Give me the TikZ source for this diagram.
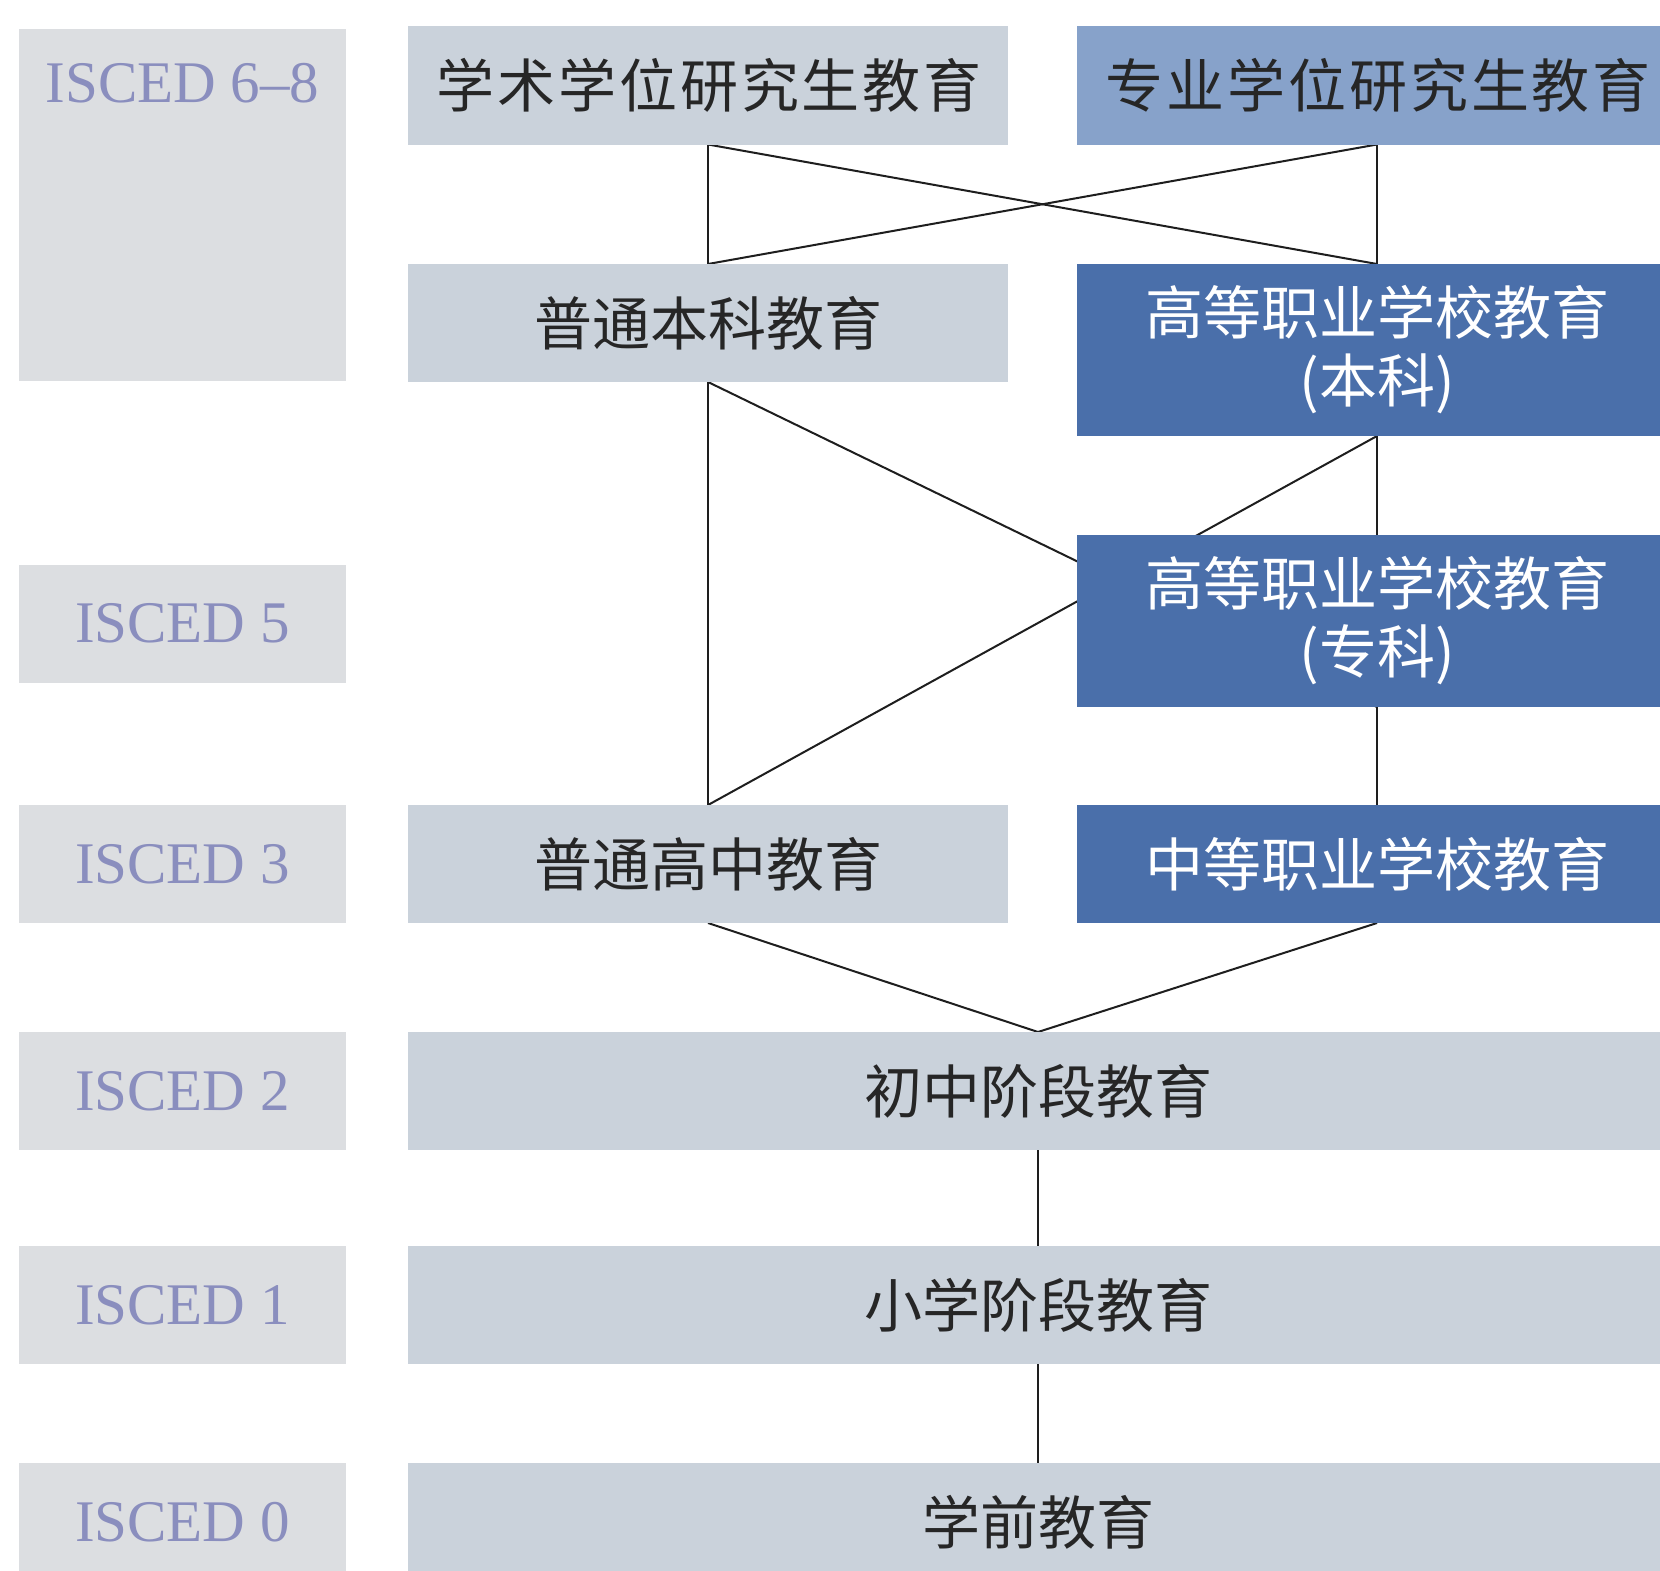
\documentclass[tikz,border=0pt]{standalone}
\usepackage{fontspec}
\setmainfont{Liberation Serif}
\newfontfamily\cjk{Noto Sans CJK SC}
\newfontfamily\cjkwide{Noto Sans CJK SC}[LetterSpace=5]
\definecolor{isgray}{HTML}{DCDEE1}
\definecolor{istext}{HTML}{8A8EBE}
\definecolor{lightbox}{HTML}{CAD2DB}
\definecolor{midblue}{HTML}{87A2CA}
\definecolor{darkblue}{HTML}{4A6FAA}
\definecolor{cjktext}{HTML}{262626}
\definecolor{linecol}{HTML}{1E1E1E}
\pgfdeclarelayer{back}
\pgfdeclarelayer{bg}
\pgfsetlayers{back,bg,main}
\tikzset{
  box/.style={rectangle, inner sep=0pt, outer sep=0pt, draw=none, align=center,
              minimum height=118pt},
  isbox/.style={box, fill=isgray, minimum width=327pt},
  istxt/.style={inner sep=0pt, text=istext, font=\fontsize{59}{62}\selectfont},
  lbox/.style={box, fill=lightbox, minimum width=600pt, text=cjktext,
               font=\cjk\fontsize{58}{68}\selectfont},
  lwbox/.style={lbox, font=\cjkwide\fontsize{58}{68}\selectfont},
  mbox/.style={box, fill=midblue, minimum width=600pt, text=cjktext,
               font=\cjkwide\fontsize{58}{68}\selectfont},
  dbox/.style={box, fill=darkblue, minimum width=600pt, text=white,
               font=\cjk\fontsize{58}{68}\selectfont},
  widebox/.style={lbox, minimum width=1260pt},
  conn/.style={draw=linecol, line width=2pt}
}
\begin{document}
\begin{tikzpicture}[x=1pt,y=-1pt]
\begin{pgfonlayer}{back}
\fill[white] (0,0) rectangle (1660,1571);
\end{pgfonlayer}
\useasboundingbox (0,0) rectangle (1660,1571);

% ISCED level column
\node[isbox, minimum height=352pt] (isc68) at (182.5,205) {};
\node[istxt] (isc68t) at (182.5,83) {ISCED 6\textendash 8};
\node[isbox] (isc5) at (182.5,623.5) {};
\node[istxt] (isc5t) at (isc5.center) {ISCED 5};
\node[isbox] (isc3) at (182.5,864) {};
\node[istxt] (isc3t) at (isc3.center) {ISCED 3};
\node[isbox] (isc2) at (182.5,1091) {};
\node[istxt] (isc2t) at (isc2.center) {ISCED 2};
\node[isbox] (isc1) at (182.5,1305) {};
\node[istxt] (isc1t) at (isc1.center) {ISCED 1};
\node[isbox] (isc0) at (182.5,1522) {};
\node[istxt] (isc0t) at (isc0.center) {ISCED 0};

% education boxes
\node[lwbox] (acad) at (708,85.5) {学术学位研究生教育\hspace{-2.5pt}};
\node[mbox] (prof) at (1377,85.5) {专业学位研究生教育\hspace{-2.5pt}};
\node[lbox] (ugrad) at (708,323) {普通本科教育};
\node[dbox, minimum height=172pt] (vocb) at (1377,350) {高等职业学校教育\\(本科)};
\node[dbox, minimum height=172pt] (vocz) at (1377,621) {高等职业学校教育\\(专科)};
\node[lbox] (hs) at (708,864) {普通高中教育};
\node[dbox] (svoc) at (1377,864) {中等职业学校教育};
\node[widebox] (jr) at (1038,1091) {初中阶段教育};
\node[widebox] (pri) at (1038,1305) {小学阶段教育};
\node[widebox] (pre) at (1038,1522) {学前教育};

% connectors behind the boxes
\begin{pgfonlayer}{bg}
\draw[conn] (acad.south) -- (ugrad.north);
\draw[conn] (acad.south) -- (vocb.north);
\draw[conn] (prof.south) -- (ugrad.north);
\draw[conn] (prof.south) -- (vocb.north);
\draw[conn] (ugrad.south) -- (hs.north);
\draw[conn] (ugrad.south) -- (vocz.south);
\draw[conn] (hs.north) -- (vocb.south);
\draw[conn] (vocb.south) -- (vocz.north);
\draw[conn] (vocz.south) -- (svoc.north);
\draw[conn] (hs.south) -- (jr.north);
\draw[conn] (svoc.south) -- (jr.north);
\draw[conn] (jr.south) -- (pri.north);
\draw[conn] (pri.south) -- (pre.north);
\end{pgfonlayer}
\end{tikzpicture}
\end{document}
